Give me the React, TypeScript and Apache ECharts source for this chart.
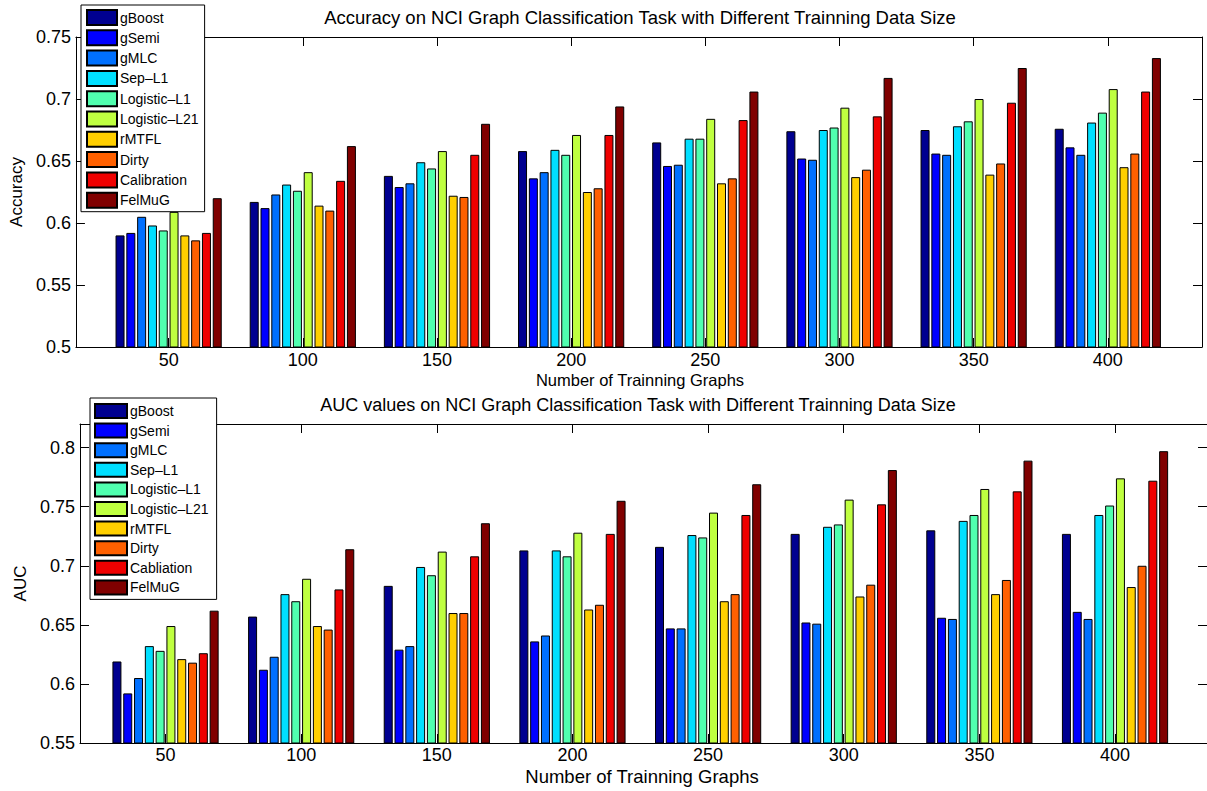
import React, { useEffect, useRef } from "react";
import * as echarts from "echarts";

const sizes = [50, 100, 150, 200, 250, 300, 350, 400];
const accNames = ["gBoost", "gSemi", "gMLC", "Sep\u2013L1", "Logistic\u2013L1", "Logistic\u2013L21", "rMTFL", "Dirty", "Calibration", "FelMuG"];
const aucNames = ["gBoost", "gSemi", "gMLC", "Sep\u2013L1", "Logistic\u2013L1", "Logistic\u2013L21", "rMTFL", "Dirty", "Cabliation", "FelMuG"];
const colors = ["#000090", "#0000FF", "#0070FF", "#00DFFF", "#50FFAF", "#BFFF40", "#FFCF00", "#FF6000", "#EF0000", "#800000"];

// Accuracy
const accGBoost = [0.590, 0.617, 0.638, 0.658, 0.665, 0.674, 0.675, 0.676];
const accGSemi = [0.592, 0.612, 0.629, 0.636, 0.646, 0.652, 0.656, 0.661];
const accGMLC = [0.605, 0.623, 0.632, 0.641, 0.647, 0.651, 0.655, 0.655];
const accSepL1 = [0.598, 0.631, 0.649, 0.659, 0.668, 0.675, 0.678, 0.681];
const accLogL1 = [0.594, 0.626, 0.644, 0.655, 0.668, 0.677, 0.682, 0.689];
const accLogL21 = [0.609, 0.641, 0.658, 0.671, 0.684, 0.693, 0.700, 0.708];
const accRMTFL = [0.590, 0.614, 0.622, 0.625, 0.632, 0.637, 0.639, 0.645];
const accDirty = [0.586, 0.610, 0.621, 0.628, 0.636, 0.643, 0.648, 0.656];
const accCalib = [0.592, 0.634, 0.655, 0.671, 0.683, 0.686, 0.697, 0.706];
const accFelMuG = [0.620, 0.662, 0.680, 0.694, 0.706, 0.717, 0.725, 0.733];

// AUC
const aucGBoost = [0.619, 0.657, 0.683, 0.713, 0.716, 0.727, 0.730, 0.727];
const aucGSemi = [0.592, 0.612, 0.629, 0.636, 0.647, 0.652, 0.656, 0.661];
const aucGMLC = [0.605, 0.623, 0.632, 0.641, 0.647, 0.651, 0.655, 0.655];
const aucSepL1 = [0.632, 0.676, 0.699, 0.713, 0.726, 0.733, 0.738, 0.743];
const aucLogL1 = [0.628, 0.670, 0.692, 0.708, 0.724, 0.735, 0.743, 0.751];
const aucLogL21 = [0.649, 0.689, 0.712, 0.728, 0.745, 0.756, 0.765, 0.774];
const aucRMTFL = [0.621, 0.649, 0.660, 0.663, 0.670, 0.674, 0.676, 0.682];
const aucDirty = [0.618, 0.646, 0.660, 0.667, 0.676, 0.684, 0.688, 0.700];
const aucCabl = [0.626, 0.680, 0.708, 0.727, 0.743, 0.752, 0.763, 0.772];
const aucFelMuG = [0.662, 0.714, 0.736, 0.755, 0.769, 0.781, 0.789, 0.797];

const accTicks = [0.5, 0.55, 0.6, 0.65, 0.7, 0.75];
const aucTicks = [0.55, 0.6, 0.65, 0.7, 0.75, 0.8];

const accData = [accGBoost, accGSemi, accGMLC, accSepL1, accLogL1, accLogL21, accRMTFL, accDirty, accCalib, accFelMuG];
const aucData = [aucGBoost, aucGSemi, aucGMLC, aucSepL1, aucLogL1, aucLogL21, aucRMTFL, aucDirty, aucCabl, aucFelMuG];

const FONT = "'Liberation Sans', Arial, Helvetica, sans-serif";

export default function App() {
  const ref = useRef<HTMLDivElement>(null);
  useEffect(() => {
    if (!ref.current) return;
    const chart = echarts.init(ref.current, null, { renderer: "svg" });

    const mkX = (gridIndex: number, min: number, max: number, bottom: boolean, margin: number) => ({
      type: "value",
      gridIndex,
      position: bottom ? "bottom" : "top",
      min,
      max,
      splitLine: { show: false },
      axisLine: { show: true, onZero: false, lineStyle: { color: "#000", width: 1 } },
      axisTick: { show: true, inside: true, length: 9, customValues: sizes, lineStyle: { color: "#000" } },
      axisLabel: bottom
        ? { show: true, customValues: sizes, color: "#000", fontSize: 18, fontFamily: FONT, margin }
        : { show: false },
    });
    const mkY = (gridIndex: number, min: number, max: number, ticks: number[], left: boolean, name: string) => ({
      type: "value",
      gridIndex,
      position: left ? "left" : "right",
      min,
      max,
      name: left ? name : "",
      nameLocation: "middle",
      nameGap: 50,
      nameTextStyle: { color: "#000", fontSize: 17, fontFamily: FONT },
      splitLine: { show: false },
      axisLine: { show: true, onZero: false, lineStyle: { color: "#000", width: 1 } },
      axisTick: { show: true, inside: true, length: 9, customValues: ticks, lineStyle: { color: "#000" } },
      axisLabel: left
        ? { show: true, customValues: ticks, color: "#000", fontSize: 18, fontFamily: FONT, margin: 5 }
        : { show: false },
    });

    const series: any[] = [];
    accNames.forEach((n, k) => {
      series.push({
        type: "bar",
        name: n,
        xAxisIndex: 0,
        yAxisIndex: 0,
        barWidth: 9,
        barGap: "20%",
        itemStyle: { color: colors[k], borderColor: "#000", borderWidth: 1 },
        data: sizes.map((s, i) => [s, accData[k][i]]),
      });
    });
    aucNames.forEach((n, k) => {
      series.push({
        type: "bar",
        name: n,
        xAxisIndex: 2,
        yAxisIndex: 2,
        barWidth: 9,
        barGap: "20%",
        itemStyle: { color: colors[k], borderColor: "#000", borderWidth: 1 },
        data: sizes.map((s, i) => [s, aucData[k][i]]),
      });
    });

    const legendBase = {
      orient: "vertical",
      icon: "rect",
      backgroundColor: "#fff",
      borderColor: "#000",
      borderWidth: 1,
      borderRadius: 0,
      selectedMode: false,
    };

    chart.setOption({
      animation: false,
      backgroundColor: "#fff",
      grid: [
        { left: 72, top: 37, width: 1130, height: 310, containLabel: false },
        { left: 80, top: 424, width: 1127, height: 319, containLabel: false },
      ],
      xAxis: [
        mkX(0, 15.45, 435.1, true, 4),
        mkX(0, 15.45, 435.1, false, 4),
        mkX(1, 18.47, 433.9, true, 3),
        mkX(1, 18.47, 433.9, false, 3),
      ],
      yAxis: [
        mkY(0, 0.5, 0.75, accTicks, true, "Accuracy"),
        mkY(0, 0.5, 0.75, accTicks, false, ""),
        mkY(1, 0.55, 0.82, aucTicks, true, "AUC"),
        mkY(1, 0.55, 0.82, aucTicks, false, ""),
      ],
      legend: [
        {
          ...legendBase,
          data: accNames,
          left: 81,
          top: 5,
          padding: [4, 6, 3, 5],
          itemWidth: 30,
          itemHeight: 15,
          itemGap: 3.3,
          textStyle: { color: "#000", fontSize: 14, fontFamily: FONT, padding: [0, 0, 0, -2] },
        },
        {
          ...legendBase,
          data: aucNames,
          left: 90,
          top: 398,
          padding: [5, 8, 4, 4],
          itemWidth: 32,
          itemHeight: 14,
          itemGap: 3.6,
          textStyle: { color: "#000", fontSize: 14, fontFamily: FONT, padding: [0, 0, 0, -2] },
        },
      ],
      graphic: [
        {
          type: "text",
          x: 640,
          y: 17,
          style: { text: "Accuracy on NCI Graph Classification Task with Different Trainning Data Size", fill: "#000", fontSize: 18.5, fontFamily: FONT, align: "center", verticalAlign: "middle" },
        },
        {
          type: "text",
          x: 640,
          y: 380,
          style: { text: "Number of Trainning Graphs", fill: "#000", fontSize: 16.5, fontFamily: FONT, align: "center", verticalAlign: "middle" },
        },
        {
          type: "text",
          x: 638,
          y: 405,
          style: { text: "AUC values on NCI Graph Classification Task with Different Trainning Data Size", fill: "#000", fontSize: 18, fontFamily: FONT, align: "center", verticalAlign: "middle" },
        },
        {
          type: "text",
          x: 642,
          y: 776,
          style: { text: "Number of Trainning Graphs", fill: "#000", fontSize: 18.5, fontFamily: FONT, align: "center", verticalAlign: "middle" },
        },
      ],
      series,
    });
    return () => chart.dispose();
  }, []);
  return <div ref={ref} style={{ position: "absolute", left: 0, top: 0, width: 1207, height: 791 }} />;
}
